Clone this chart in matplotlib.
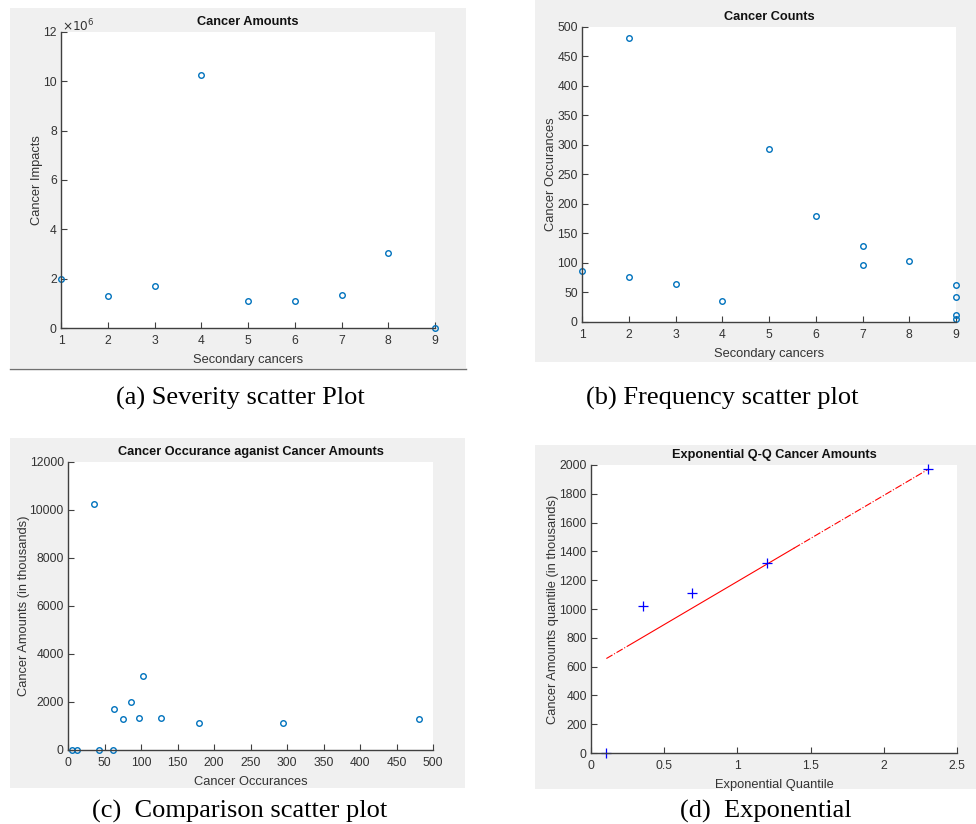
import matplotlib
matplotlib.use("Agg")
import matplotlib.pyplot as plt
from matplotlib.patches import Rectangle
from matplotlib.lines import Line2D
from matplotlib.ticker import FuncFormatter

plt.rcParams['font.family'] = ['Liberation Sans', 'DejaVu Sans']

# (a) severity: secondary cancer vs amount
sev_x = [1, 2, 3, 4, 5, 6, 7, 8, 9]
sev_y = [2.0e6, 1.28e6, 1.7e6, 10.25e6, 1.1e6, 1.1e6, 1.33e6, 3.05e6, 0.0]

# (b) frequency: secondary cancer vs occurrences
freq_x = [1, 2, 2, 3, 4, 5, 6, 7, 7, 8, 9, 9, 9, 9]
freq_y = [87, 481, 77, 64, 36, 294, 179, 128, 97, 103, 62, 43, 12, 5]

# (c) occurrences vs amounts (thousands)
occ_x = [36, 5, 13, 43, 61, 63, 75, 86, 97, 103, 127, 179, 294, 481]
amt_y = [10250, 0, 0, 0, 0, 1706, 1290, 1997, 1331, 3079, 1331, 1123, 1123, 1290]

# (d) exponential Q-Q
qq_x = [0.105, 0.357, 0.693, 1.204, 2.303]
qq_y = [0, 1024, 1108, 1321, 1970]
ref_x = [0.105, 0.288, 1.386, 2.303]
ref_y = [656, 765, 1422, 1970]

W, H = 976, 824
fig = plt.figure(figsize=(W / 100, H / 100), dpi=100)
fig.patch.set_facecolor('white')

BG = '#f0f0f0'
AX = '#404040'
BLUE = '#0072BD'


def px_rect(x0, y0, x1, y1):
    # pixel box (top-left origin) -> figure fraction
    return [x0 / W, 1 - y1 / H, (x1 - x0) / W, (y1 - y0) / H]


def gray_box(x0, y0, x1, y1):
    r = px_rect(x0, y0, x1, y1)
    fig.patches.append(Rectangle((r[0], r[1]), r[2], r[3], transform=fig.transFigure,
                                 facecolor=BG, edgecolor='none', zorder=-2))


def style(ax, title, xlabel, ylabel, tpad=5):
    for s in ['top', 'right']:
        ax.spines[s].set_visible(False)
    for s in ['left', 'bottom']:
        ax.spines[s].set_color(AX)
        ax.spines[s].set_linewidth(1.0)
    ax.tick_params(direction='in', length=4, width=0.8, color=AX,
                   labelcolor='#333333', labelsize=8.7)
    ax.tick_params(axis='x', pad=5)
    ax.tick_params(axis='y', pad=3)
    ax.set_title(title, fontsize=9.2, fontweight='bold', pad=tpad, color='#111111')
    ax.set_xlabel(xlabel, fontsize=9.3, color='#333333', labelpad=5)
    ax.set_ylabel(ylabel, fontsize=9.3, color='#333333', labelpad=0)
    fmt = FuncFormatter(lambda v, p: '%g' % v)
    ax.xaxis.set_major_formatter(fmt)


gray_box(10, 8, 466, 368)
gray_box(535, 0, 976, 362)
gray_box(10, 438, 465, 788)
gray_box(535, 445, 976, 789)
fig.lines.append(Line2D([10 / W, 466 / W], [1 - 368.5 / H, 1 - 368.5 / H],
                        transform=fig.transFigure, color='#707070', lw=1, zorder=-1))

# (a)
ax = fig.add_axes(px_rect(61, 32, 435, 328))
ax.plot(sev_x, sev_y, 'o', ms=4, mfc='none', mec=BLUE, mew=1, clip_on=False)
ax.set_xlim(1, 9)
ax.set_ylim(0, 12e6)
ax.set_xticks(range(1, 10))
ax.set_yticks([i * 2e6 for i in range(7)])
style(ax, 'Cancer Amounts', 'Secondary cancers', 'Cancer Impacts')
ax.yaxis.set_major_formatter(FuncFormatter(lambda v, p: '%g' % (v / 1e6)))
fig.text(62 / W, 1 - 26 / H, r'$\times10^{6}$', fontsize=8.7, color='#333333', va='center')

# (b)
ax = fig.add_axes(px_rect(582, 27, 956, 322))
ax.plot(freq_x, freq_y, 'o', ms=4, mfc='none', mec=BLUE, mew=1, clip_on=False)
ax.set_xlim(1, 9)
ax.set_ylim(0, 500)
ax.set_xticks(range(1, 10))
ax.set_yticks(range(0, 501, 50))
style(ax, 'Cancer Counts', 'Secondary cancers', 'Cancer Occurances')

# (c)
ax = fig.add_axes(px_rect(68, 462, 433, 750))
ax.plot(occ_x, amt_y, 'o', ms=4, mfc='none', mec=BLUE, mew=1, clip_on=False)
ax.set_xlim(0, 500)
ax.set_ylim(0, 12000)
ax.set_xticks(range(0, 501, 50))
ax.set_yticks(range(0, 12001, 2000))
style(ax, 'Cancer Occurance aganist Cancer Amounts', 'Cancer Occurances',
      'Cancer Amounts (in thousands)')

# (d)
ax = fig.add_axes(px_rect(591, 465, 957, 753))
ax.plot(ref_x[:2], ref_y[:2], color='red', lw=0.8, ls='-.')
ax.plot(ref_x[1:3], ref_y[1:3], color='red', lw=0.8, ls='-')
ax.plot(ref_x[2:], ref_y[2:], color='red', lw=0.8, ls='-.')
ax.plot(qq_x, qq_y, '+', ms=7, mew=0.9, color='blue', clip_on=False)
ax.set_xlim(0, 2.5)
ax.set_ylim(0, 2000)
ax.set_xticks([0, 0.5, 1, 1.5, 2, 2.5])
ax.set_yticks(range(0, 2001, 200))
style(ax, 'Exponential Q-Q Cancer Amounts', 'Exponential Quantile',
      'Cancer Amounts quantile (in thousands)')

# captions
cap = dict(fontsize=19, family=['Liberation Serif', 'DejaVu Serif'], ha='center', va='center')
fig.text(240 / W, 1 - 398 / H, '(a) Severity scatter Plot', **cap)
fig.text(722 / W, 1 - 398 / H, '(b) Frequency scatter plot', **cap)
fig.text(240 / W, 1 - 811 / H, '(c)  Comparison scatter plot', **cap)
fig.text(766 / W, 1 - 811 / H, '(d)  Exponential', **cap)

fig.savefig('out.png', dpi=100)
